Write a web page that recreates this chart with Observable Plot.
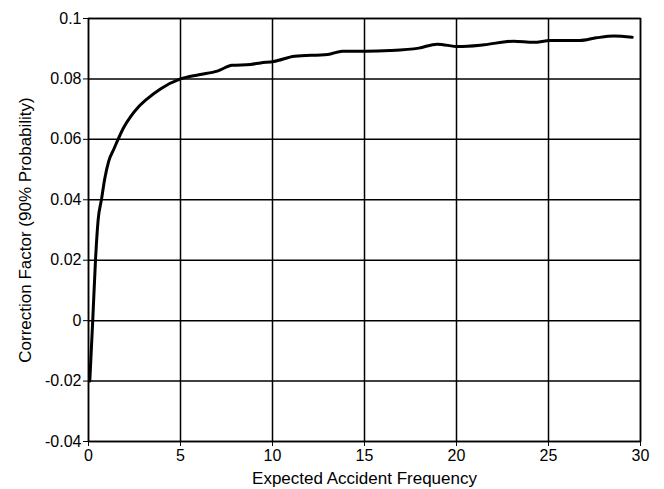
<!DOCTYPE html>
<html>
<head>
<meta charset="utf-8">
<script src="https://cdn.jsdelivr.net/npm/d3@7"></script>
<script src="https://cdn.jsdelivr.net/npm/@observablehq/plot@0.6"></script>
<style>
  html, body { margin: 0; padding: 0; background: #fff; }
  svg { display: block; }
</style>
</head>
<body>
<div id="chart"></div>
<script>
const freq = [0.07, 0.23, 0.38, 0.52, 0.71, 0.89, 1.10, 1.38, 1.6, 1.92, 2.3, 2.7, 3.19, 3.91, 5.0, 6.0, 7.0, 7.8, 8.8, 9.35, 10.07, 11.2, 13.0, 13.8, 15.05, 16.4, 17.95, 18.95, 20.1, 21.5, 23.1, 24.2, 25.1, 26.7, 27.6, 28.55, 29.55];
const factor = [-0.02, 0, 0.02, 0.0331, 0.0403, 0.0472, 0.0528, 0.0568, 0.0599, 0.064, 0.0676, 0.0706, 0.0734, 0.0767, 0.080, 0.0814, 0.0826, 0.0845, 0.0848, 0.0853, 0.0858, 0.0875, 0.0881, 0.0892, 0.0892, 0.0894, 0.0902, 0.0915, 0.0907, 0.0913, 0.0925, 0.0921, 0.0927, 0.0927, 0.0936, 0.0942, 0.0938];
const xTicks = [0, 5, 10, 15, 20, 25, 30];
const yTicks = [-0.04, -0.02, 0, 0.02, 0.04, 0.06, 0.08, 0.1];
const xLabel = "Expected Accident Frequency";
const yLabel = "Correction Factor (90% Probability)";

const data = freq.map((f, i) => ({x: f, y: factor[i]}));

const chart = Plot.plot({
  width: 664,
  height: 489,
  marginLeft: 88,
  marginRight: 24,
  marginTop: 18,
  marginBottom: 48,
  style: {fontFamily: "'Liberation Sans', Arial, sans-serif", fontSize: "16px", color: "#000", background: "#fff"},
  x: {domain: [0, 30], ticks: xTicks, tickFormat: d => String(d), tickSize: 5, tickPadding: 3, label: xLabel, labelAnchor: "center", labelArrow: "none", labelOffset: 42},
  y: {domain: [-0.04, 0.1], ticks: yTicks, tickFormat: d => String(+d.toFixed(2)), tickSize: 5, tickPadding: 2, label: yLabel, labelAnchor: "center", labelArrow: "none", labelOffset: 70},
  marks: [
    Plot.ruleX(xTicks, {stroke: "#000", strokeWidth: 1.5}),
    Plot.ruleY(yTicks, {stroke: "#000", strokeWidth: 1.5}),
    Plot.frame({stroke: "#000", strokeWidth: 1.5}),
    Plot.line(data, {x: "x", y: "y", stroke: "#000", strokeWidth: 3, curve: "monotone-x"})
  ]
});
chart.querySelectorAll("[aria-label$='axis label'] text").forEach(t => t.setAttribute("font-size", "17"));
document.getElementById("chart").appendChild(chart);
</script>
</body>
</html>
